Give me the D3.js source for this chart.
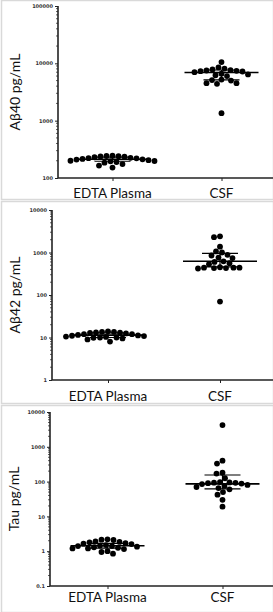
<!DOCTYPE html>
<html><head><meta charset="utf-8">
<script src="https://cdn.jsdelivr.net/npm/d3@7"></script>
<style>html,body{margin:0;padding:0;background:#fff;overflow:hidden}</style>
</head><body>
<svg id="chart" width="273" height="612"></svg>
<script>
// ---------- data ----------
const categories = ["EDTA Plasma", "CSF"];
const yTitles = ["A\u03B240 pg/mL", "A\u03B242 pg/mL", "Tau pg/mL"];

const abeta40Plasma = [245, 242, 240, 238, 235, 230, 225, 222, 220, 215, 212, 210, 205, 200, 198, 195, 190, 185, 175, 165, 152];
const abeta40CSF = [10500, 8500, 8100, 7800, 7600, 7500, 7400, 7300, 7200, 7000, 6600, 6400, 6200, 6000, 5200, 5100, 5000, 4500, 4500, 4400, 1350];
const abeta42Plasma = [14, 13.6, 13.5, 13.2, 13, 12.8, 12.5, 12, 12, 11.5, 11.2, 11, 10.8, 10.5, 10.3, 10, 10, 9.8, 9.5, 9, 8];
const abeta42CSF = [2400, 2300, 1370, 1060, 1000, 880, 850, 760, 740, 620, 600, 560, 530, 450, 440, 440, 440, 430, 430, 420, 70];
const tauPlasma = [2.2, 2.15, 2.1, 1.9, 1.85, 1.8, 1.7, 1.65, 1.6, 1.5, 1.45, 1.4, 1.4, 1.35, 1.3, 1.25, 1.2, 1.2, 1.15, 1.0, 0.95, 0.85];
const tauCSF = [4200, 400, 330, 180, 170, 125, 97, 95, 93, 92, 90, 88, 85, 80, 75, 70, 65, 60, 50, 42, 30, 19];

const median40 = [212, 6900], q1_40 = [196, 5150], q3_40 = [232, 7650];
const median42 = [11.4, 620], q1_42 = [10, 460], q3_42 = [12.8, 950];
const medianTau = [1.43, 86], q1Tau = [1.22, 62], q3Tau = [1.68, 155];

const yTicks40 = [100, 1000, 10000, 100000];
const yTicks42 = [1, 10, 100, 1000, 10000];
const yTicksTau = [0.1, 1, 10, 100, 1000, 10000];

// ---------- layout ----------
const panels = [
  {box:[1,0,272,199], ax:58, yTop:6, yBot:178, xEnd:276, ticks:yTicks40, title:yTitles[0], titleX:15, labelY:198,
   groups:[abeta40Plasma, abeta40CSF], med:median40, q1:q1_40, q3:q3_40},
  {box:[1,201,272,202], ax:52, yTop:210, yBot:380, xEnd:276, ticks:yTicks42, title:yTitles[1], titleX:15, labelY:401,
   groups:[abeta42Plasma, abeta42CSF], med:median42, q1:q1_42, q3:q3_42},
  {box:[1,405,272,207], ax:50, yTop:412, yBot:586, xEnd:280, ticks:yTicksTau, title:yTitles[2], titleX:14, labelY:602,
   groups:[tauPlasma, tauCSF], med:medianTau, q1:q1Tau, q3:q3Tau}
];

const svg = d3.select("#chart");
const R = 2.9;

panels.forEach(p => {
  const g = svg.append("g");
  g.append("rect").attr("x", p.box[0]+0.5).attr("y", p.box[1]+0.5).attr("width", p.box[2]).attr("height", p.box[3])
    .attr("fill", "#fff").attr("stroke", "#d9d9d9").attr("stroke-width", 1.5);

  const y = d3.scaleLog().domain([p.ticks[0], p.ticks[p.ticks.length-1]]).range([p.yBot, p.yTop]);
  const x = d3.scalePoint().domain(categories).range([p.ax, p.xEnd]).padding(0.5);

  // minor ticks
  const minor = [];
  for (let i = 0; i < p.ticks.length - 1; i++) for (let k = 2; k <= 9; k++) minor.push(p.ticks[i]*k);
  g.selectAll(".minor").data(minor).join("line")
    .attr("x1", p.ax - 2).attr("x2", p.ax).attr("y1", d => y(d)).attr("y2", d => y(d))
    .attr("stroke", "#333").attr("stroke-width", 0.8);

  const yAxis = d3.axisLeft(y).tickValues(p.ticks).tickFormat(d => String(d)).tickSize(3).tickPadding(2);
  const ya = g.append("g").attr("transform", `translate(${p.ax},0)`).call(yAxis);
  ya.select(".domain").attr("stroke", "#222").attr("stroke-width", 1.6).attr("d", `M0,${p.yTop}V${p.yBot}`);
  ya.selectAll(".tick line").attr("stroke", "#222").attr("stroke-width", 1);
  ya.selectAll(".tick text").attr("font-family", "DejaVu Sans, sans-serif").attr("font-weight", "bold")
    .attr("font-size", 5).attr("fill", "#333");

  const xAxis = d3.axisBottom(x).tickSize(3).tickPadding(7).tickSizeOuter(0);
  const xa = g.append("g").attr("transform", `translate(0,${p.yBot})`).call(xAxis);
  xa.select(".domain").attr("stroke", "#222").attr("stroke-width", 1.6).attr("d", `M${p.ax},0H273`);
  xa.selectAll(".tick line").attr("stroke", "#222").attr("stroke-width", 1);
  xa.selectAll(".tick text").remove();
  g.selectAll(".xl").data(categories).join("text")
    .attr("x", d => x(d)).attr("y", p.labelY).attr("text-anchor", "middle")
    .attr("font-family", "Lato, 'Open Sans', sans-serif").attr("font-size", 13.5).attr("fill", "#111").text(d => d);

  g.append("text").attr("transform", `translate(${p.titleX},${(p.yTop+p.yBot)/2}) rotate(-90)`)
    .attr("text-anchor", "middle").attr("dy", "0.35em")
    .attr("font-family", "Lato, 'Open Sans', sans-serif").attr("font-size", 14).attr("fill", "#111").text(p.title);

  // beeswarm dots
  p.groups.forEach((vals, gi) => {
    const cx = x(categories[gi]);
    const placed = [];
    const sorted = vals.slice().sort((a, b) => d3.descending(a, b));
    sorted.forEach(v => {
      const py = y(v);
      let off = 0;
      for (let s = 0; s < 400; s++) {
        const cand = (s % 2 === 0 ? 1 : -1) * Math.ceil(s/2) * 0.5;
        if (placed.every(q => (q.x-cand)**2 + (q.y-py)**2 >= (2*R*1.02)**2)) { off = cand; break; }
      }
      placed.push({x: off, y: py});
    });
    g.selectAll(null).data(placed).join("circle")
      .attr("cx", d => cx + d.x).attr("cy", d => d.y).attr("r", R).attr("fill", "#000");

    // median and IQR
    const lines = [
      {x1: cx-37, x2: cx+37, y1: y(p.med[gi]), y2: y(p.med[gi])},
      {x1: cx-18, x2: cx+18, y1: y(p.q1[gi]), y2: y(p.q1[gi])},
      {x1: cx-18, x2: cx+18, y1: y(p.q3[gi]), y2: y(p.q3[gi])},
      {x1: cx, x2: cx, y1: y(p.q1[gi]), y2: y(p.q3[gi])}
    ];
    g.selectAll(null).data(lines).join("line")
      .attr("x1", d => d.x1).attr("x2", d => d.x2).attr("y1", d => d.y1).attr("y2", d => d.y2)
      .attr("stroke", "#000").attr("stroke-width", (d, i) => i === 0 ? 1.6 : 1.2);
  });
});
</script>
</body></html>
